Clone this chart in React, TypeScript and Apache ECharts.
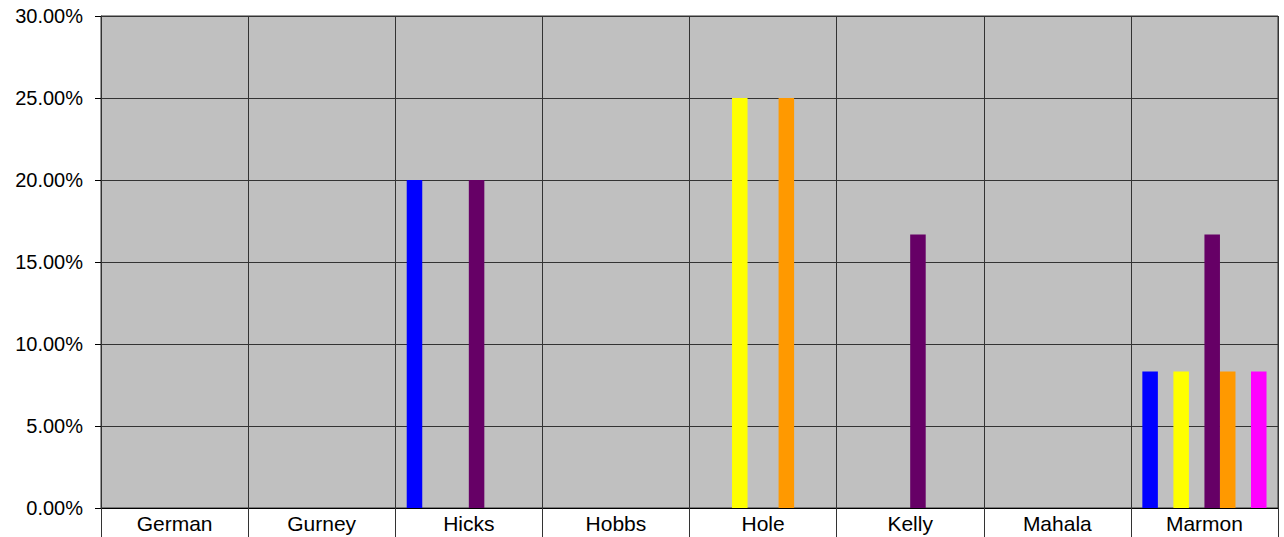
import React, { useEffect, useRef } from "react";
import * as echarts from "echarts";

const categories = ["German", "Gurney", "Hicks", "Hobbs", "Hole", "Kelly", "Mahala", "Marmon"];
const seriesNames = ["S1", "S2", "S3", "S4", "S5", "S6", "S7", "S8"];
const seriesColors = ["#0000FF", "#00FFFF", "#FFFF00", "#800000", "#660066", "#FF9900", "#008080", "#FF00FF"];
const s1 = [null, null, 20, null, null, null, null, 8.33];
const s2 = [null, null, null, null, null, null, null, null];
const s3 = [null, null, null, null, 25, null, null, 8.33];
const s4 = [null, null, null, null, null, null, null, null];
const s5 = [null, null, 20, null, null, 16.67, null, 16.67];
const s6 = [null, null, null, null, 25, null, null, 8.33];
const s7 = [null, null, null, null, null, null, null, null];
const s8 = [null, null, null, null, null, null, null, 8.33];
const seriesValues = [s1, s2, s3, s4, s5, s6, s7, s8];
const yTicks = { min: 0, max: 30, interval: 5 };

export default function App() {
  const ref = useRef<HTMLDivElement>(null);
  useEffect(() => {
    if (!ref.current) return;
    const chart = echarts.init(ref.current, null, { renderer: "svg" });
    chart.setOption({
      animation: false,
      textStyle: { fontFamily: "Liberation Sans, Arial, sans-serif" },
      grid: {
        left: 101,
        right: 6,
        top: 16,
        bottom: 29,
        show: true,
        backgroundColor: "#C0C0C0",
        borderColor: "#333333",
        borderWidth: 1,
      },
      xAxis: {
        type: "category",
        data: categories,
        axisLine: { show: true, lineStyle: { color: "#000000", width: 1 } },
        axisTick: { show: true, length: 29, lineStyle: { color: "#333333" } },
        axisLabel: { color: "#000000", fontSize: 21, margin: 5 },
        splitLine: { show: true, lineStyle: { color: "#333333", width: 1 } },
      },
      yAxis: {
        type: "value",
        min: yTicks.min,
        max: yTicks.max,
        interval: yTicks.interval,
        axisLine: { show: true, lineStyle: { color: "#333333" } },
        axisTick: { show: true, length: 6, lineStyle: { color: "#000000" } },
        axisLabel: {
          color: "#000000",
          fontSize: 20,
          margin: 18,
          formatter: (v: number) => v.toFixed(2) + "%",
        },
        splitLine: { show: true, lineStyle: { color: "#333333", width: 1 } },
      },
      series: seriesValues.map((vals, i) => ({
        name: seriesNames[i],
        type: "bar",
        data: vals,
        barGap: "0%",
        barCategoryGap: "15.6%",
        itemStyle: { color: seriesColors[i] },
      })),
    });
    return () => chart.dispose();
  }, []);
  return (
    <div
      ref={ref}
      style={{ position: "absolute", left: 0, top: 0, width: 1284, height: 537, background: "#ffffff" }}
    />
  );
}
